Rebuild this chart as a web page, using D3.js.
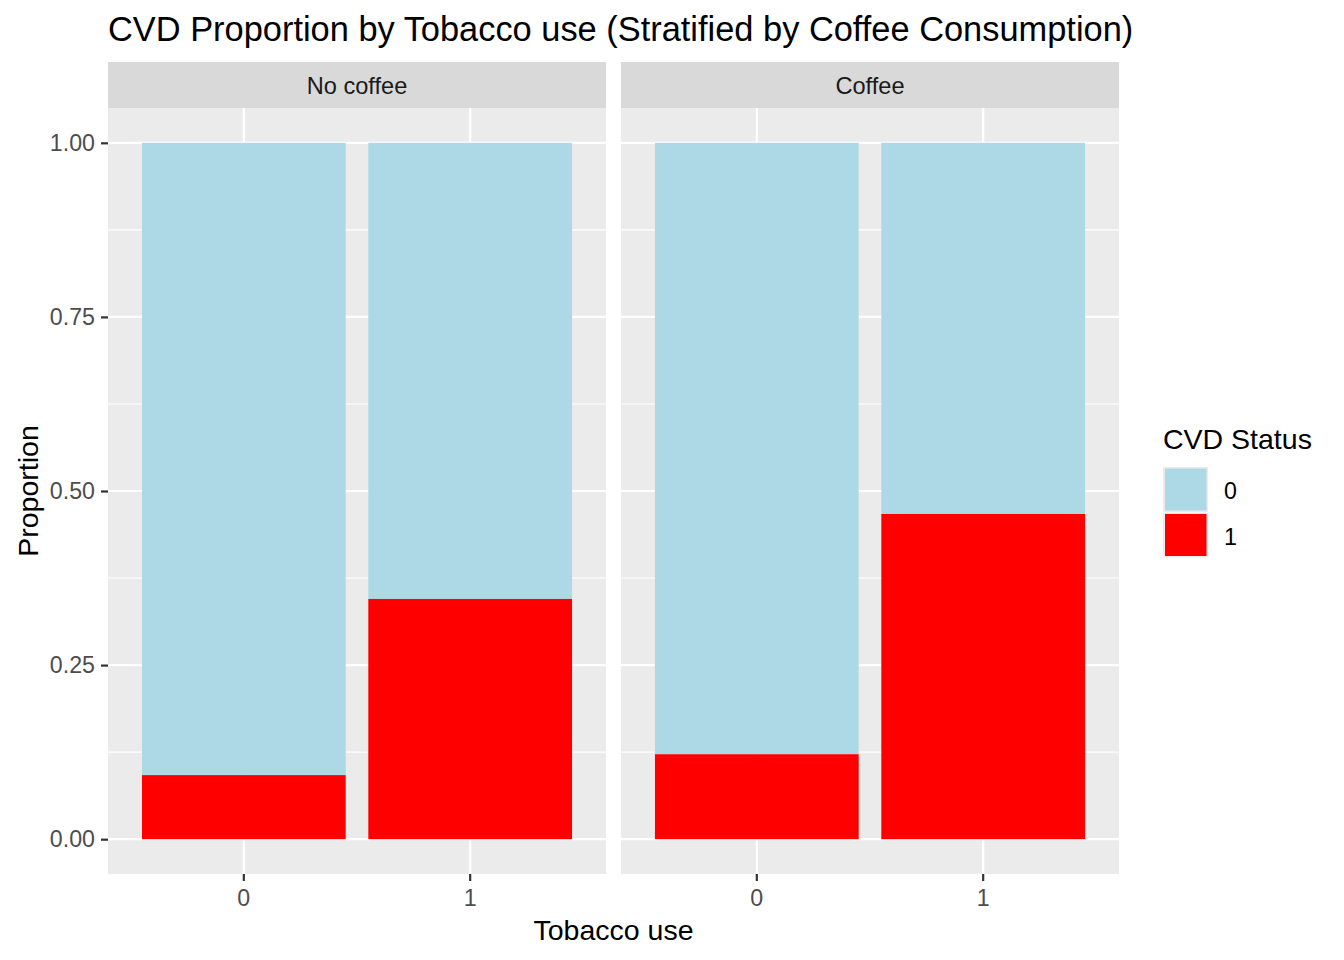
<!DOCTYPE html>
<html>
<head>
<meta charset="utf-8">
<script src="https://cdn.jsdelivr.net/npm/d3@7"></script>
<style>
  body { margin: 0; background: #ffffff; }
  svg text { font-family: "Liberation Sans", Arial, sans-serif; }
</style>
</head>
<body>
<div id="chart"></div>
<script>
// data
var facets = ["No coffee", "Coffee"];
var tobacco = ["0", "1"];
var cvdLevels = ["0", "1"];
var noCoffeeCvd1 = [0.092, 0.345];
var noCoffeeCvd0 = [0.908, 0.655];
var coffeeCvd1 = [0.122, 0.467];
var coffeeCvd0 = [0.878, 0.533];
var yTicks = [0, 0.25, 0.5, 0.75, 1];
var yMinor = [0.125, 0.375, 0.625, 0.875];
var colors = { "0": "#add8e6", "1": "#ff0000" };

var W = 1344, H = 960;
var panelW = 498, panelTop = 108, panelBottom = 874, stripTop = 62;
var panelLeft = [108, 621];
var tickFont = "23.2px";

var svg = d3.select("#chart").append("svg")
  .attr("width", W).attr("height", H);
svg.append("rect").attr("width", W).attr("height", H).attr("fill", "#ffffff");

var y = d3.scaleLinear().domain([-0.05, 1.05]).range([panelBottom, panelTop]);

var panelData = [
  { cvd0: noCoffeeCvd0, cvd1: noCoffeeCvd1 },
  { cvd0: coffeeCvd0, cvd1: coffeeCvd1 }
];

facets.forEach(function(name, i) {
  var x0 = panelLeft[i];
  var x = d3.scaleBand().domain(tobacco)
    .range([x0, x0 + panelW]).paddingInner(0.1).paddingOuter(0.15);
  var g = svg.append("g");

  // panel background
  g.append("rect").attr("x", x0).attr("y", panelTop)
    .attr("width", panelW).attr("height", panelBottom - panelTop)
    .attr("fill", "#ebebeb");

  // grid
  g.selectAll(".minor").data(yMinor).enter().append("line")
    .attr("x1", x0).attr("x2", x0 + panelW)
    .attr("y1", function(d) { return y(d); }).attr("y2", function(d) { return y(d); })
    .attr("stroke", "#ffffff").attr("stroke-width", 1.1);
  g.selectAll(".major").data(yTicks).enter().append("line")
    .attr("x1", x0).attr("x2", x0 + panelW)
    .attr("y1", function(d) { return y(d); }).attr("y2", function(d) { return y(d); })
    .attr("stroke", "#ffffff").attr("stroke-width", 2.2);
  g.selectAll(".vgrid").data(tobacco).enter().append("line")
    .attr("x1", function(d) { return x(d) + x.bandwidth() / 2; })
    .attr("x2", function(d) { return x(d) + x.bandwidth() / 2; })
    .attr("y1", panelTop).attr("y2", panelBottom)
    .attr("stroke", "#ffffff").attr("stroke-width", 2.2);

  // stacked bars
  var d = panelData[i];
  tobacco.forEach(function(t, j) {
    g.append("rect").attr("x", x(t)).attr("width", x.bandwidth())
      .attr("y", y(d.cvd1[j] + d.cvd0[j])).attr("height", y(d.cvd1[j]) - y(d.cvd1[j] + d.cvd0[j]))
      .attr("fill", colors["0"]);
    g.append("rect").attr("x", x(t)).attr("width", x.bandwidth())
      .attr("y", y(d.cvd1[j])).attr("height", y(0) - y(d.cvd1[j]))
      .attr("fill", colors["1"]);
  });

  // strip
  g.append("rect").attr("x", x0).attr("y", stripTop)
    .attr("width", panelW).attr("height", panelTop - stripTop)
    .attr("fill", "#d9d9d9");
  g.append("text").attr("x", x0 + panelW / 2).attr("y", 94)
    .attr("text-anchor", "middle").attr("font-size", "23.6px")
    .attr("fill", "#1a1a1a").text(name);

  // x axis
  var xa = svg.append("g").attr("transform", "translate(0," + panelBottom + ")")
    .call(d3.axisBottom(x).tickSize(7).tickPadding(9));
  xa.select(".domain").remove();
  xa.selectAll(".tick line").attr("stroke", "#333333").attr("stroke-width", 2.2);
  xa.selectAll(".tick text").attr("font-size", tickFont).attr("fill", "#4d4d4d")
    .attr("font-family", "Liberation Sans, Arial, sans-serif");
});

// y axis
var ya = svg.append("g").attr("transform", "translate(" + panelLeft[0] + ",0)")
  .call(d3.axisLeft(y).tickValues(yTicks).tickFormat(d3.format(".2f")).tickSize(7).tickPadding(6));
ya.select(".domain").remove();
ya.selectAll(".tick line").attr("stroke", "#333333").attr("stroke-width", 2.2);
ya.selectAll(".tick text").attr("font-size", tickFont).attr("fill", "#4d4d4d")
  .attr("font-family", "Liberation Sans, Arial, sans-serif");

// titles
svg.append("text").attr("x", 108).attr("y", 41)
  .attr("font-size", "34.4px").attr("fill", "#000000")
  .text("CVD Proportion by Tobacco use (Stratified by Coffee Consumption)");
svg.append("text").attr("x", (panelLeft[0] + panelLeft[1] + panelW) / 2).attr("y", 940)
  .attr("text-anchor", "middle").attr("font-size", "28.5px").attr("fill", "#000000")
  .text("Tobacco use");
svg.append("text")
  .attr("transform", "translate(38," + (panelTop + panelBottom) / 2 + ") rotate(-90)")
  .attr("text-anchor", "middle").attr("font-size", "28.5px").attr("fill", "#000000")
  .text("Proportion");

// legend
var lg = svg.append("g");
lg.append("text").attr("x", 1163).attr("y", 449)
  .attr("font-size", "28.5px").attr("fill", "#000000").text("CVD Status");
cvdLevels.forEach(function(lv, k) {
  var ky = 467 + k * 45.5;
  lg.append("rect").attr("x", 1163).attr("y", ky).attr("width", 45).attr("height", 45)
    .attr("fill", "#ebebeb");
  lg.append("rect").attr("x", 1165).attr("y", ky + 1.5).attr("width", 41.5).attr("height", 42)
    .attr("fill", colors[lv]);
  lg.append("text").attr("x", 1224).attr("y", ky + 32)
    .attr("font-size", tickFont).attr("fill", "#000000").text(lv);
});
</script>
</body>
</html>
